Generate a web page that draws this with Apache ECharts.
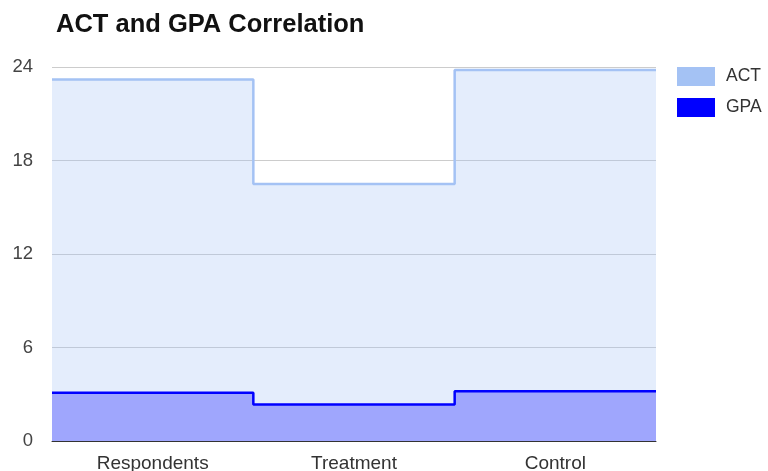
<!DOCTYPE html>
<html><head><meta charset="utf-8">
<script src="https://cdn.jsdelivr.net/npm/echarts@6/dist/echarts.min.js"></script>
<style>html,body{margin:0;padding:0;background:#fff}#c{width:768px;height:471px}</style>
</head><body><div id="c"></div>
<script>
var categories = ['Respondents', 'Treatment', 'Control'];
var actValues = [23.2, 16.5, 23.8];
var gpaValues = [3.1, 2.35, 3.2];
var yTicks = [0, 6, 12, 18, 24];

function stepData(vals) {
  var d = vals.map(function (v, i) { return [i, v]; });
  d.push([vals.length, vals[vals.length - 1]]);
  return d;
}

var chart = echarts.init(document.getElementById('c'), null, {renderer: 'canvas'});
chart.setOption({
  animation: false,
  title: {
    text: 'ACT and GPA Correlation',
    left: 51, top: 7, padding: 5,
    textStyle: {fontFamily: 'Liberation Sans, Arial', fontSize: 25.5, fontWeight: 'bold', color: '#111'}
  },
  legend: {
    orient: 'vertical', left: 677, top: 67, itemGap: 12, padding: 0,
    itemWidth: 38, itemHeight: 19, icon: 'rect',
    textStyle: {fontFamily: 'Liberation Sans, Arial', fontSize: 17.5, color: '#333', padding: [0, 0, 0, 6]},
    data: ['ACT', 'GPA']
  },
  grid: {left: 52, right: 112, top: 67, bottom: 30, containLabel: false, outerBoundsMode: 'none'},
  xAxis: [{
    type: 'category', data: categories, boundaryGap: true,
    axisTick: {show: false},
    axisLine: {show: true, lineStyle: {color: '#333', width: 1}},
    axisLabel: {margin: 13, fontFamily: 'Liberation Sans, Arial', fontSize: 19, color: '#333'}
  }, {
    type: 'value', min: 0, max: categories.length, show: false
  }],
  yAxis: {
    type: 'value', min: yTicks[0], max: yTicks[yTicks.length - 1], interval: 6,
    axisLine: {show: false}, axisTick: {show: false},
    splitLine: {lineStyle: {color: '#cccccc', width: 1}},
    axisLabel: {margin: 19, fontFamily: 'Liberation Sans, Arial', fontSize: 18.5, color: '#444'}
  },
  series: [{
    name: 'ACT', type: 'line', xAxisIndex: 1, step: 'end', symbol: 'none',
    data: stepData(actValues),
    itemStyle: {color: '#a4c2f4'},
    lineStyle: {color: '#a4c2f4', width: 2.5},
    areaStyle: {color: '#a4c2f4', opacity: 0.3, origin: 'start'}
  }, {
    name: 'GPA', type: 'line', xAxisIndex: 1, step: 'end', symbol: 'none',
    data: stepData(gpaValues),
    itemStyle: {color: '#0000ff'},
    lineStyle: {color: '#0000ff', width: 2.5},
    areaStyle: {color: '#0000ff', opacity: 0.3, origin: 'start'}
  }]
});
</script></body></html>
